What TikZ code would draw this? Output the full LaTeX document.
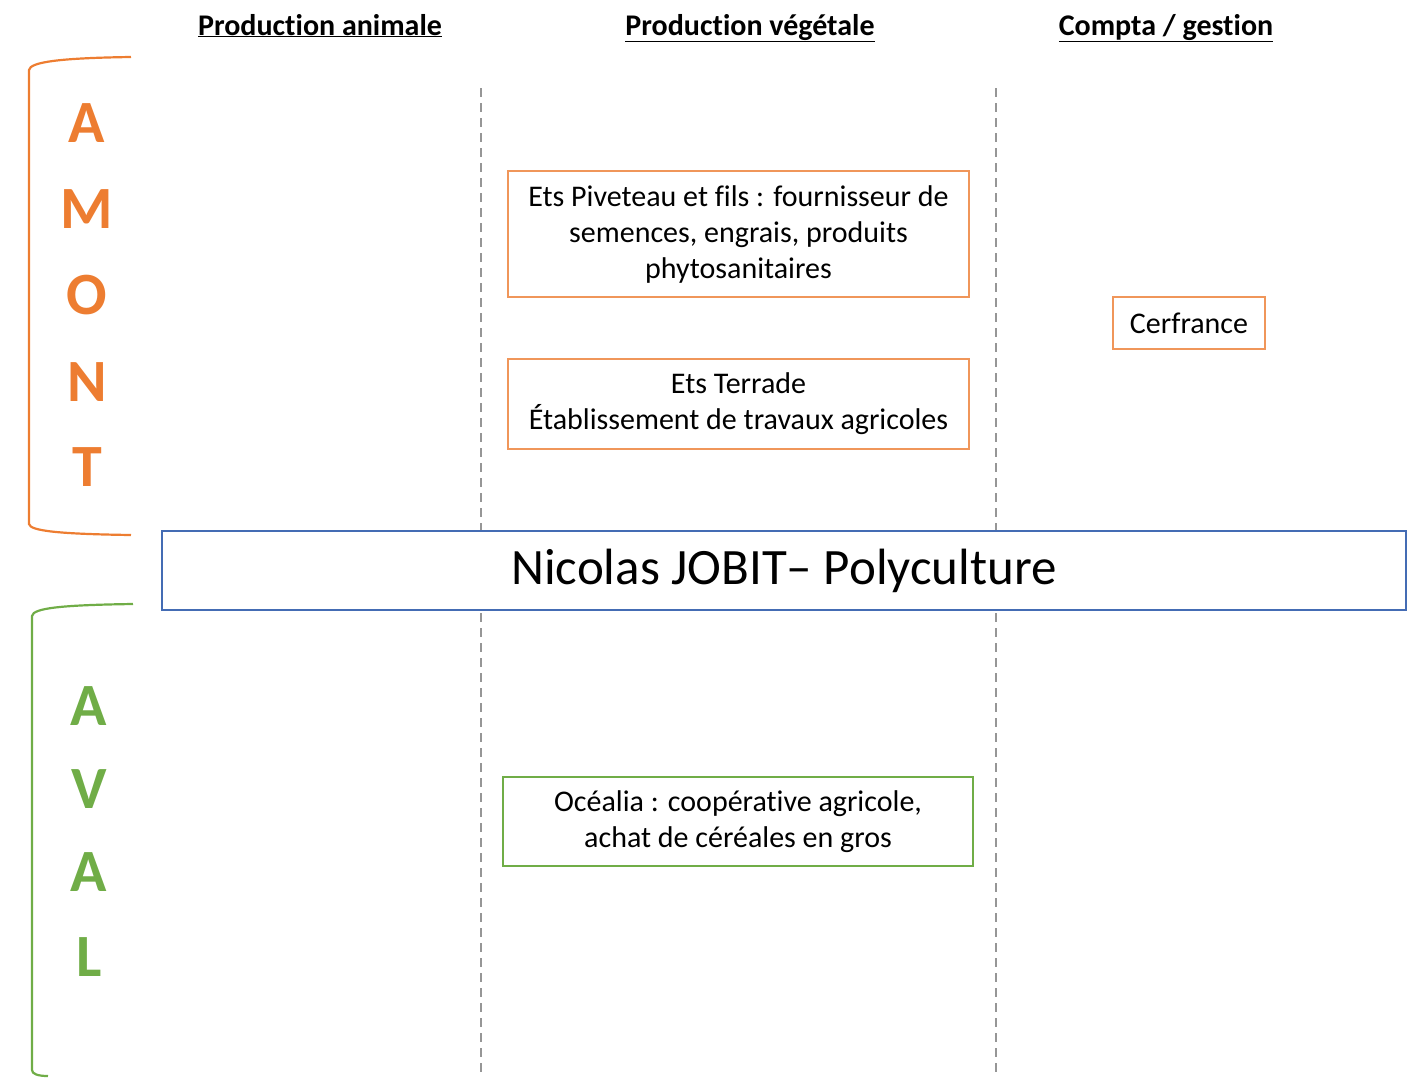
\documentclass[tikz,border=0pt]{standalone}
\usepackage{fontspec}
\setmainfont{Carlito}[Ligatures=NoCommon]
\definecolor{orng}{RGB}{237,125,49}
\definecolor{orngbox}{RGB}{240,150,90}
\definecolor{grn}{RGB}{112,173,71}
\definecolor{blu}{RGB}{68,108,180}
\definecolor{dashgray}{RGB}{150,150,150}
\begin{document}
\begin{tikzpicture}[x=1pt,y=-1pt,
  heading/.style={font=\fontsize{30}{34}\selectfont\bfseries, inner sep=0pt, anchor=base},
  obox/.style={draw=orngbox, line width=1.3pt, fill=white, align=center, inner sep=0pt, font=\fontsize{30}{36}\selectfont},
  gbox/.style={draw=grn, line width=1.3pt, fill=white, align=center, inner sep=0pt, font=\fontsize{30}{36}\selectfont},
  letterO/.style={text=orng, font=\fontsize{60}{62}\selectfont\bfseries, inner sep=0pt},
  letterG/.style={text=grn, font=\fontsize{60}{62}\selectfont\bfseries, inner sep=0pt},
  sep/.style={dashgray, line width=1.5pt, dash pattern=on 9pt off 6pt}]
\useasboundingbox (0,0) rectangle (1421,1077);
% headings
\node[heading] (h1) at (320,35) {\underline{Production animale}};
\node[heading] (h2) at (750,35) {\underline{Production végétale}};
\node[heading] (h3) at (1166,35) {\underline{Compta / gestion}};
% dashed separators
\coordinate (s1t) at (481,88); \coordinate (s1b) at (481,1072);
\coordinate (s2t) at (996,88); \coordinate (s2b) at (996,1072);
\draw[sep] (s1t) -- (s1b);
\draw[sep] (s2t) -- (s2b);
% brackets
\draw[orng, line width=2.2pt] (131,57) .. controls (60,58) and (30,62) .. (29,70) -- (29,524) .. controls (30,531) and (60,534) .. (131,535);
\draw[grn, line width=2.2pt] (133,604) .. controls (62,605) and (33,608) .. (32,616) -- (32,1070) .. controls (32,1074) and (38,1076) .. (48,1076);
% AMONT
\node[letterO] (a1) at (87,123) {A};
\node[letterO] (a2) at (87,209) {M};
\node[letterO] (a3) at (87,295) {O};
\node[letterO] (a4) at (87,382) {N};
\node[letterO] (a5) at (87,467) {T};
% AVAL
\node[letterG] (v1) at (89,706) {A};
\node[letterG] (v2) at (89,789) {V};
\node[letterG] (v3) at (89,872) {A};
\node[letterG] (v4) at (89,957) {L};
% boxes
\node[obox, minimum width=461pt, minimum height=126pt] (piv) at (738.5,234) {Ets Piveteau et fils : fournisseur de\\semences, engrais, produits\\phytosanitaires};
\node[obox, minimum width=461pt, minimum height=90pt] (ter) at (738.5,404) {Ets Terrade\\Établissement de travaux agricoles};
\node[obox, minimum width=152pt, minimum height=52pt] (cer) at (1189,323) {Cerfrance};
\node[gbox, minimum width=470pt, minimum height=89pt] (oce) at (738,821.5) {Océalia : coopérative agricole,\\achat de céréales en gros};
% main box
\node[draw=blu, line width=2.2pt, fill=white, minimum width=1244pt, minimum height=79pt, inner sep=0pt, font=\fontsize{51}{56}\selectfont] (main) at (784,570.5) {Nicolas JOBIT– Polyculture};
\end{tikzpicture}
\end{document}
